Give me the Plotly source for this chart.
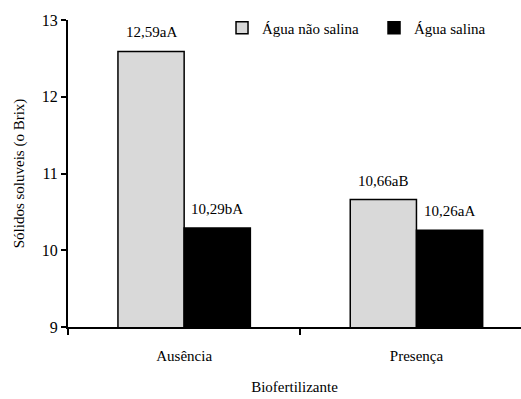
import plotly.graph_objects as go

# Soluble solids (°Brix) by biofertilizer treatment and irrigation water
categorias = ["Ausência", "Presença"]
nao_salina = [12.59, 10.66]
salina = [10.29, 10.26]
letras_nao_salina = ["aA", "aB"]
letras_salina = ["bA", "aA"]
series_nomes = ["Água não salina", "Água salina"]
y_ticks = [9, 10, 11, 12, 13]

FONT = "Times New Roman, Liberation Serif, DejaVu Serif, serif"
BARGAP = 0.43
half = (1 - BARGAP) / 4  # center offset of each bar within its group


def rotulo(v, letras):
    return f"{v:.2f}".replace(".", ",") + letras


fig = go.Figure()
fig.add_trace(go.Bar(
    x=categorias, y=nao_salina, name=series_nomes[0],
    marker=dict(color="#d9d9d9", line=dict(color="#000000", width=1.5)),
))
fig.add_trace(go.Bar(
    x=categorias, y=salina, name=series_nomes[1],
    marker=dict(color="#000000", line=dict(color="#000000", width=1.5)),
))

anotacoes = []
for i, (v, l) in enumerate(zip(nao_salina, letras_nao_salina)):
    anotacoes.append(dict(x=i - half, y=v, text=rotulo(v, l), xref="x", yref="y",
                          showarrow=False, yanchor="bottom", yshift=9,
                          font=dict(family=FONT, size=15, color="#000")))
for i, (v, l) in enumerate(zip(salina, letras_salina)):
    anotacoes.append(dict(x=i + half, y=v, text=rotulo(v, l), xref="x", yref="y",
                          showarrow=False, yanchor="bottom", yshift=9,
                          font=dict(family=FONT, size=15, color="#000")))

fig.update_layout(
    width=521, height=399,
    margin=dict(l=68, r=0, t=20, b=72, autoexpand=False),
    paper_bgcolor="white", plot_bgcolor="white",
    font=dict(family=FONT, size=15, color="#000"),
    barmode="group", bargap=BARGAP, bargroupgap=0,
    annotations=anotacoes,
    legend=dict(orientation="h", x=0.34, y=1.028, xanchor="left", yanchor="top",
                font=dict(family=FONT, size=15, color="#000"),
                itemwidth=30, bgcolor="rgba(0,0,0,0)", entrywidth=107,
                tracegroupgap=0),
    xaxis=dict(
        type="category", range=[-0.5, 1.45], tickson="boundaries",
        showline=True, linecolor="#000", linewidth=2,
        ticks="outside", ticklen=6, tickwidth=2, tickcolor="#000",
        ticklabelstandoff=14,
        tickfont=dict(family=FONT, size=15, color="#000"),
        title=dict(text="Biofertilizante", font=dict(family=FONT, size=15, color="#000"), standoff=18),
        showgrid=False,
    ),
    yaxis=dict(
        range=[9, 13], tickvals=y_ticks,
        showline=True, linecolor="#000", linewidth=2,
        ticks="outside", ticklen=5, tickwidth=2, tickcolor="#000",
        tickfont=dict(family=FONT, size=16, color="#000"),
        title=dict(text="Sólidos soluveis (o Brix)", font=dict(family=FONT, size=15, color="#000"), standoff=14),
        showgrid=False, zeroline=False,
    ),
)

fig.write_html("out.html")
